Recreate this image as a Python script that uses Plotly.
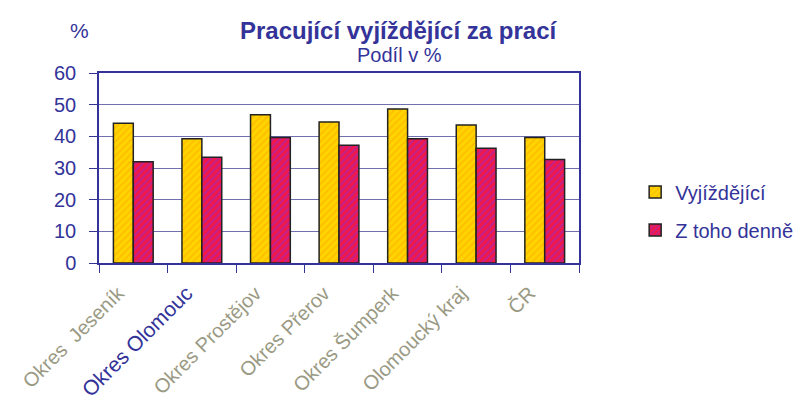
import plotly.graph_objects as go

categories = ["Okres  Jeseník", "Okres Olomouc", "Okres Prostějov", "Okres Přerov",
              "Okres Šumperk", "Olomoucký kraj", "ČR"]
vyjizdejici = [44.1, 39.2, 46.8, 44.5, 48.6, 43.6, 39.6]
denne = [32.0, 33.4, 39.6, 37.2, 39.2, 36.2, 32.7]

NAVY = "#333399"
GREY = "#9A9A84"

ticktext = []
for c in categories:
    if c == "Okres Olomouc":
        ticktext.append(f"<span style='color:{NAVY};font-size:21px'>{c}</span>")
    else:
        ticktext.append(c)

fig = go.Figure()
fig.add_trace(go.Bar(
    x=categories, y=vyjizdejici, name="Vyjíždějící", legendgroup="a",
    marker=dict(color="#FFD400", line=dict(color="#222222", width=1.5),
                pattern=dict(shape="/", fgcolor="#FFA800", size=5, solidity=0.35)),
))
fig.add_trace(go.Bar(
    x=categories, y=denne, name="Z toho denně", legendgroup="b",
    marker=dict(color="#F0184A", line=dict(color="#222222", width=1.5),
                pattern=dict(shape="/", fgcolor="#8A2AD8", size=5, solidity=0.35)),
))

# page body has an 8px margin, so the figure is drawn 8px lower/right
fig.update_layout(
    width=795, height=401,
    margin=dict(l=91, r=224, t=65, b=146, autoexpand=False),
    paper_bgcolor="white", plot_bgcolor="white",
    barmode="group", bargap=0.42, bargroupgap=0,
    font=dict(family="Liberation Sans, Arial, sans-serif", color=NAVY),
    showlegend=True,
    legend=dict(x=1.117, y=0.274, xanchor="left", yanchor="middle",
                font=dict(size=20, color=NAVY), bgcolor="rgba(0,0,0,0)",
                tracegroupgap=9, itemwidth=30),
    annotations=[
        dict(text="<b>Pracující vyjíždějící za prací</b>", xref="paper", yref="paper",
             x=0.623, y=1.226, xanchor="center", yanchor="middle", showarrow=False,
             font=dict(size=24, color=NAVY)),
        dict(text="Podíl v %", xref="paper", yref="paper",
             x=0.625, y=1.095, xanchor="center", yanchor="middle", showarrow=False,
             font=dict(size=20, color=NAVY)),
        dict(text="%", xref="paper", yref="paper",
             x=-0.04, y=1.226, xanchor="center", yanchor="middle", showarrow=False,
             font=dict(size=21, color=NAVY)),
    ],
)
fig.update_yaxes(
    range=[0, 60], dtick=10, showgrid=True, gridcolor="#7070B0", gridwidth=1,
    showline=True, linecolor=NAVY, linewidth=1.5, mirror=True,
    ticks="outside", ticklen=8, tickcolor=NAVY, automargin=False,
    ticklabelstandoff=9,
    tickfont=dict(size=20, color=NAVY), zeroline=False,
)
fig.update_xaxes(
    tickvals=categories, ticktext=ticktext, tickangle=-45,
    tickson="boundaries", ticks="outside", ticklen=8, tickcolor=NAVY,
    showline=True, linecolor=NAVY, linewidth=1.5, mirror=True, automargin=False,
    ticklabelstandoff=9, ticklabelshift=-15,
    tickfont=dict(size=20, color=GREY),
)
fig.write_html("out.html")
